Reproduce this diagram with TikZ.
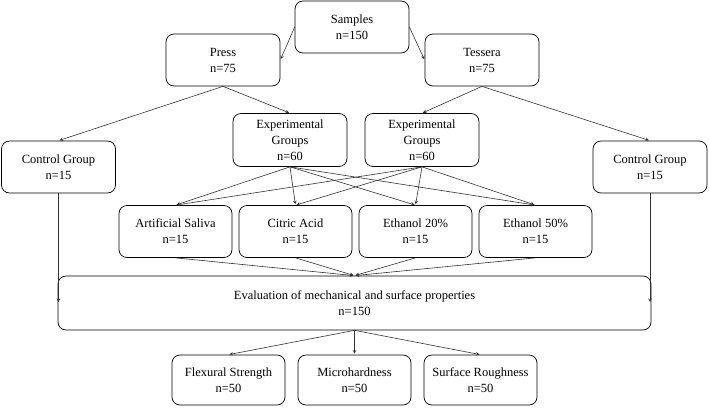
\documentclass[tikz,border=0pt]{standalone}
\usepackage{fontspec}
\setmainfont{Liberation Serif}
\begin{document}
\begin{tikzpicture}[>=stealth,line join=round,line cap=round,x=1pt,y=-1pt,
	hop/.style={draw=black,line width=.7pt,rounded corners=8pt,align=center,
		minimum width=114pt,minimum height=52pt,inner sep=2pt,
		font=\fontsize{12.5}{16}\selectfont},
	link/.style={->,draw=black!80,line width=.6pt,shorten >=1pt}]
	\useasboundingbox (0,0) rectangle (709,410);
	%Mẫu
	\node[hop] (samples) at (352,27) {Samples\\n=150};
	\node[hop] (press) at (223,60) {Press\\n=75};
	\node[hop] (tessera) at (482,60) {Tessera\\n=75};
	%Nhóm
	\node[hop] (ctrlP) at (58.5,167) {Control Group\\n=15};
	\node[hop,minimum height=53pt] (expP) at (290,140) {Experimental\\Groups\\n=60};
	\node[hop,minimum height=53pt] (expT) at (422,140) {Experimental\\Groups\\n=60};
	\node[hop] (ctrlT) at (650,167) {Control Group\\n=15};
	%Dung dịch
	\node[hop,minimum width=113pt] (saliva) at (175.5,231.5) {Artificial Saliva\\n=15};
	\node[hop,minimum width=113pt] (citric) at (295.5,231.5) {Citric Acid\\n=15};
	\node[hop,minimum width=113pt] (eth20) at (415.5,231.5) {Ethanol 20\%\\n=15};
	\node[hop,minimum width=113pt] (eth50) at (535.5,231.5) {Ethanol 50\%\\n=15};
	%Đánh giá
	\node[hop,minimum width=593pt,minimum height=54pt] (eval) at (354.5,303) {Evaluation of mechanical and surface properties\\n=150};
	\node[hop,minimum width=113pt,minimum height=50pt] (flex) at (228.5,380) {Flexural Strength\\n=50};
	\node[hop,minimum width=113pt,minimum height=50pt] (micro) at (354.5,380) {Microhardness\\n=50};
	\node[hop,minimum width=113pt,minimum height=50pt] (rough) at (480.5,380) {Surface Roughness\\n=50};
	%Mũi tên
	\draw[link] (samples.west) -- (press.east);
	\draw[link] (samples.east) -- (tessera.west);
	\draw[link] (press.south) -- (ctrlP.north);
	\draw[link] (press.south) -- (expP.north);
	\draw[link] (tessera.south) -- (expT.north);
	\draw[link] (tessera.south) -- (ctrlT.north);
	\foreach \g in {expP,expT}
	\foreach \t in {saliva,citric,eth20,eth50}
	\draw[link] (\g.south) -- (\t.north);
	\foreach \t in {saliva,citric,eth20,eth50}
	\draw[link] (\t.south) -- (eval.north);
	\draw[link] (ctrlP.south) -- (ctrlP.south |- eval.west);
	\draw[link] (ctrlT.south) -- (ctrlT.south |- eval.east);
	\foreach \m in {flex,micro,rough}
	\draw[link] (eval.south) -- (\m.north);
\end{tikzpicture}
\end{document}
